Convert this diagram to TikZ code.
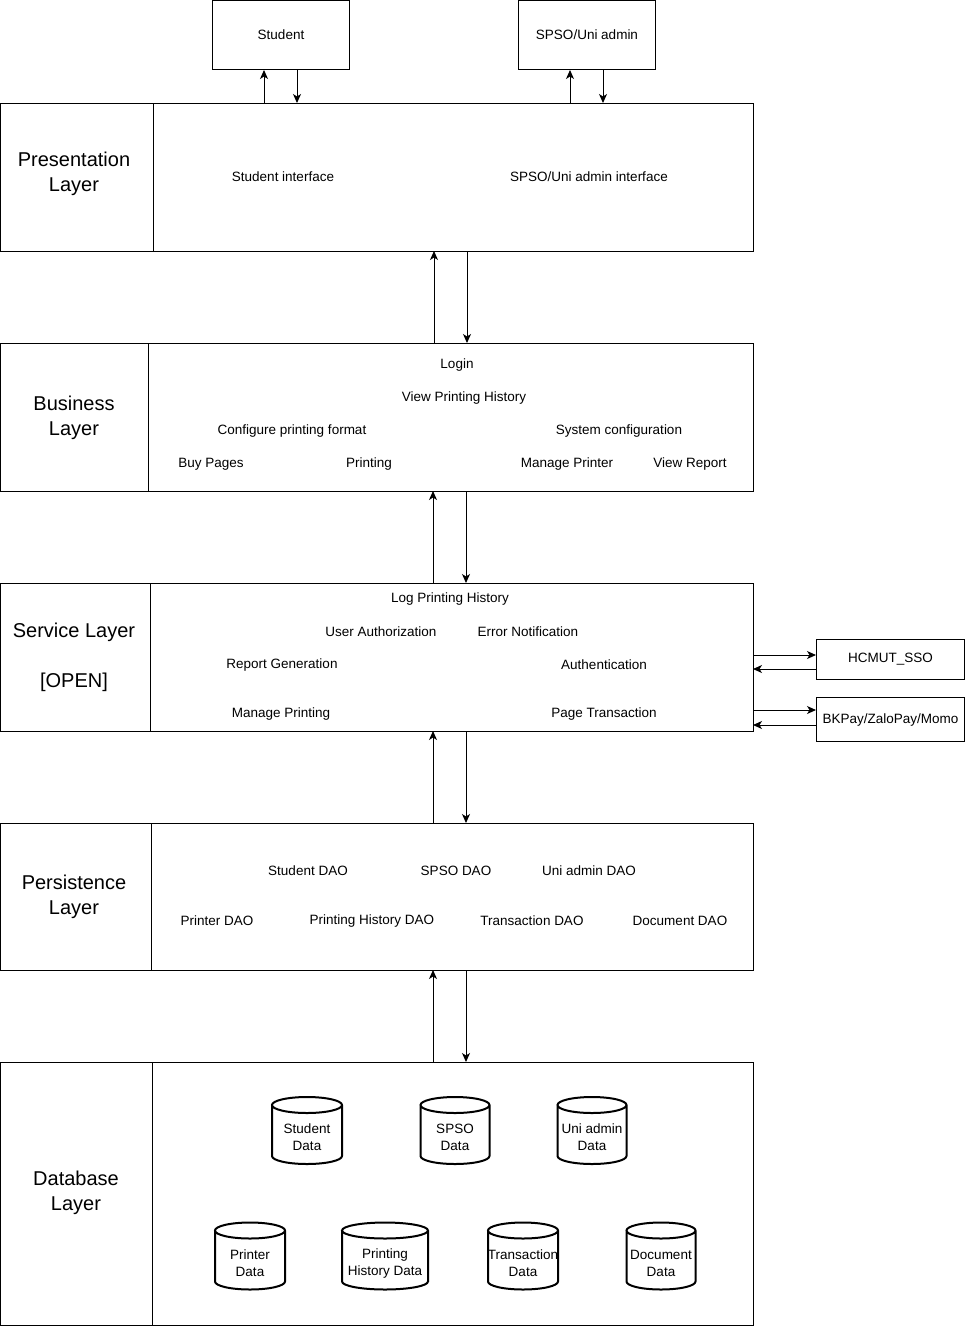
\documentclass[tikz,border=0pt]{standalone}
\usepackage{fontspec}
\setmainfont{Liberation Sans}
\usetikzlibrary{arrows.meta}
\usetikzlibrary{positioning}

\tikzset{
  layer/.style={draw,line width=1pt,rectangle,minimum width=753pt,inner sep=0pt,outer sep=0pt},
  actor/.style={draw,line width=1pt,rectangle,font=\fontsize{13.5}{16}\selectfont,inner sep=0pt},
  small/.style={font=\fontsize{13.5}{16}\selectfont,inner sep=0pt,yshift=-1pt},
  big/.style={font=\fontsize{20}{25}\selectfont,align=center,inner sep=0pt,yshift=-2pt},
  dbbox/.style={rectangle,minimum height=67pt,inner sep=0pt,outer sep=0pt},
  dbline/.style={line width=2pt},
  dbtext/.style={font=\fontsize{13.5}{17}\selectfont,align=center,inner sep=0pt},
  arr/.style={line width=1pt,-{Stealth[length=9pt,width=8pt,inset=2.5pt]}}
}

% cylinder: name, x, y, half width
\newcommand{\dbcyl}[4]{%
  \node[dbbox,minimum width=2*#4pt] (#1) at (#2,#3) {};
  \draw[dbline] ([yshift=-8pt]#1.north west) -- ([yshift=8pt]#1.south west)
    arc[start angle=180,end angle=360,x radius=#4pt,y radius=8pt]
    -- ([yshift=-8pt]#1.north east)
    arc[start angle=0,end angle=180,x radius=#4pt,y radius=8pt]
    arc[start angle=180,end angle=360,x radius=#4pt,y radius=8pt];
}

\begin{document}
\begin{tikzpicture}[x=1pt,y=-1pt]
\useasboundingbox (0,0) rectangle (966,1326);

\node[actor,anchor=north west,minimum width=137pt,minimum height=69pt] (stu) at (212,0) {Student};
\node[actor,anchor=north west,minimum width=137pt,minimum height=69pt] (adm) at (518,0) {SPSO/Uni admin};

\node[layer,anchor=north west,minimum height=148pt] (pres) at (0,103) {};
\node[layer,below=92pt of pres,minimum height=148pt] (bus) {};
\node[layer,below=92pt of bus,minimum height=148pt] (svc) {};
\node[layer,below=92pt of svc,minimum height=147pt] (per) {};
\node[layer,below=92pt of per,minimum height=263pt] (dbl) {};

\draw[line width=1pt] ([xshift=153pt]pres.north west) -- ([xshift=153pt]pres.south west);
\draw[line width=1pt] ([xshift=148pt]bus.north west) -- ([xshift=148pt]bus.south west);
\draw[line width=1pt] ([xshift=150pt]svc.north west) -- ([xshift=150pt]svc.south west);
\draw[line width=1pt] ([xshift=151pt]per.north west) -- ([xshift=151pt]per.south west);
\draw[line width=1pt] ([xshift=152pt]dbl.north west) -- ([xshift=152pt]dbl.south west);

\node[big] (presT) at (74,172) {Presentation\\Layer};
\node[big] (busT) at (74,416) {Business\\Layer};
\node[big] (svcT) at (74,655) {Service Layer\\[25pt]{[OPEN]}};
\node[big] (perT) at (74,895) {Persistence\\Layer};
\node[big] (dblT) at (76,1191) {Database\\Layer};

% presentation
\node[small] (stuUI) at (283,176) {Student interface};
\node[small] (admUI) at (589,176) {SPSO/Uni admin interface};

% business
\node[small] (login) at (457,364) {Login};
\node[small] (viewHist) at (464,397) {View Printing History};
\node[small] (confFmt) at (292,430) {Configure printing format};
\node[small] (sysConf) at (619,430) {System configuration};
\node[small] (buyPg) at (211,463) {Buy Pages};
\node[small] (printing) at (369,463) {Printing};
\node[small] (manPrinter) at (567,463) {Manage Printer};
\node[small] (viewRep) at (690,463) {View Report};

% service
\node[small] (logHist) at (450,598) {Log Printing History};
\node[small] (userAuth) at (381,631) {User Authorization};
\node[small] (errNot) at (528,631) {Error Notification};
\node[small] (repGen) at (282,664) {Report Generation};
\node[small] (authn) at (604,664) {Authentication};
\node[small] (manPrinting) at (281,713) {Manage Printing};
\node[small] (pageTr) at (604,713) {Page Transaction};

% persistence
\node[small] (stuDAO) at (308,870) {Student DAO};
\node[small] (spsoDAO) at (456,870) {SPSO DAO};
\node[small] (uniDAO) at (589,870) {Uni admin DAO};
\node[small] (prnDAO) at (217,920) {Printer DAO};
\node[small] (histDAO) at (372,920) {Printing History DAO};
\node[small] (trDAO) at (532,920) {Transaction DAO};
\node[small] (docDAO) at (680,920) {Document DAO};

% database
\dbcyl{stuDB}{307}{1130.5}{35}
\dbcyl{spsoDB}{455}{1130.5}{34.5}
\dbcyl{uniDB}{592}{1130.5}{34.5}
\dbcyl{prnDB}{250}{1256}{35}
\dbcyl{histDB}{385}{1256}{43}
\dbcyl{trDB}{523}{1256}{35}
\dbcyl{docDB}{661}{1256}{34.5}
\node[dbtext] (stuDBT) at ([yshift=-7pt]stuDB.center) {Student\\Data};
\node[dbtext] (spsoDBT) at ([yshift=-7pt]spsoDB.center) {SPSO\\Data};
\node[dbtext] (uniDBT) at ([yshift=-7pt]uniDB.center) {Uni admin\\Data};
\node[dbtext] (prnDBT) at ([yshift=-7pt]prnDB.center) {Printer\\Data};
\node[dbtext] (histDBT) at ([yshift=-7pt]histDB.center) {Printing\\History Data};
\node[dbtext] (trDBT) at ([yshift=-7pt]trDB.center) {Transaction\\Data};
\node[dbtext] (docDBT) at ([yshift=-7pt]docDB.center) {Document\\Data};

% external
\node[actor,anchor=north west,minimum width=148pt,minimum height=40pt] (sso) at (816,639) {HCMUT\_SSO};
\node[actor,anchor=north west,minimum width=148pt,minimum height=44pt] (pay) at (816,697) {BKPay/ZaloPay/Momo};
\coordinate (ssoIn) at ([yshift=-16pt]sso.north west);
\coordinate (ssoOut) at ([yshift=-30pt]sso.north west);
\coordinate (payIn) at ([yshift=-13pt]pay.north west);
\coordinate (payOut) at ([yshift=-28pt]pay.north west);

% arrows
\draw[arr] ([xshift=264pt]pres.north west) -- ([xshift=52pt]stu.south west);
\draw[arr] ([xshift=85pt]stu.south west) -- ([xshift=297pt]pres.north west);
\draw[arr] ([xshift=570pt]pres.north west) -- ([xshift=52pt]adm.south west);
\draw[arr] ([xshift=85pt]adm.south west) -- ([xshift=603pt]pres.north west);

\draw[arr] ([xshift=434pt]bus.north west) -- ([xshift=434pt]pres.south west);
\draw[arr] ([xshift=467pt]pres.south west) -- ([xshift=467pt]bus.north west);
\draw[arr] ([xshift=433pt]svc.north west) -- ([xshift=433pt]bus.south west);
\draw[arr] ([xshift=466pt]bus.south west) -- ([xshift=466pt]svc.north west);
\draw[arr] ([xshift=433pt]per.north west) -- ([xshift=433pt]svc.south west);
\draw[arr] ([xshift=466pt]svc.south west) -- ([xshift=466pt]per.north west);
\draw[arr] ([xshift=433pt]dbl.north west) -- ([xshift=433pt]per.south west);
\draw[arr] ([xshift=466pt]per.south west) -- ([xshift=466pt]dbl.north west);

\draw[arr] (svc.east |- ssoIn) -- (ssoIn);
\draw[arr] (ssoOut) -- (svc.east |- ssoOut);
\draw[arr] (svc.east |- payIn) -- (payIn);
\draw[arr] (payOut) -- (svc.east |- payOut);

\end{tikzpicture}
\end{document}
